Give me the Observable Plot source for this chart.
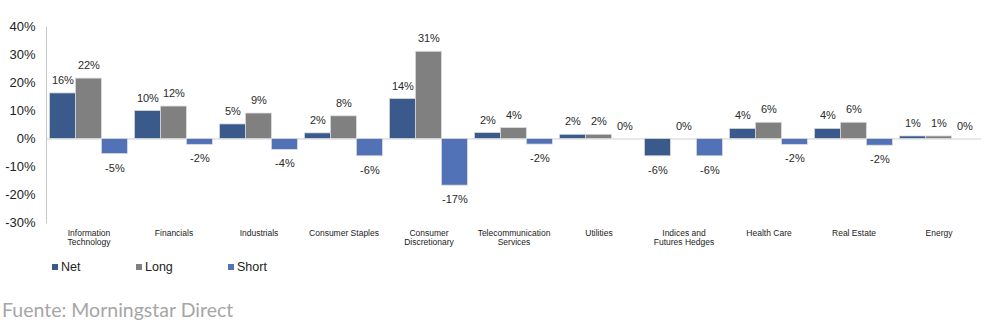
<!DOCTYPE html>
<html>
<head>
<meta charset="utf-8">
<script src="https://cdn.jsdelivr.net/npm/d3@7"></script>
<script src="https://cdn.jsdelivr.net/npm/@observablehq/plot@0.6"></script>
<style>
  html, body { margin: 0; padding: 0; background: #fff; }
  #wrap { position: relative; width: 984px; height: 332px; overflow: hidden; font-family: "Liberation Sans", Arial, sans-serif; }
  #chart svg { display: block; }
  #legend { position: absolute; left: 52px; top: 259px; height: 16px; font-size: 12.5px; color: #222; font-family: "Liberation Sans", Arial, sans-serif; }
  #legend span.item { position: absolute; top: 0; white-space: nowrap; line-height: 16px; }
  #legend span.sw { display: inline-block; width: 6px; height: 6px; margin-right: 3px; vertical-align: 1px; }
  #caption { position: absolute; left: 2px; top: 298px; font-family: Lato, "Open Sans", sans-serif; font-size: 19.5px; color: #a6a6a6; white-space: nowrap; }
</style>
</head>
<body>
<div id="wrap">
  <div id="chart"></div>
  <div id="legend"></div>
  <div id="caption">Fuente: Morningstar Direct</div>
</div>
<script>
const categories = [
  "Information\nTechnology",
  "Financials",
  "Industrials",
  "Consumer Staples",
  "Consumer\nDiscretionary",
  "Telecommunication\nServices",
  "Utilities",
  "Indices and\nFutures Hedges",
  "Health Care",
  "Real Estate",
  "Energy"
];
const seriesNames = ["Net", "Long", "Short"];
const seriesColors = ["#3a5a8c", "#808080", "#5272b8"];
const netValues   = [16.3, 10.0, 5.2, 2.0, 14.3, 2.1, 1.5, -6.2, 3.6, 3.6, 0.9];
const longValues  = [21.6, 11.6, 9.1, 8.1, 31.2, 3.9, 1.5, 0.0, 5.8, 5.8, 0.9];
const shortValues = [-5.4, -2.1, -3.9, -6.2, -16.7, -2.0, 0.0, -6.2, -2.1, -2.4, 0.0];
const yTicks = [-30, -20, -10, 0, 10, 20, 30, 40];

const seriesValues = [netValues, longValues, shortValues];
const rows = [];
categories.forEach((c, i) => {
  seriesNames.forEach((s, j) => {
    const v = seriesValues[j][i];
    rows.push({cat: c, series: s, value: v, label: Math.round(v) + "%"});
  });
});

const chart = Plot.plot({
  width: 984,
  height: 252,
  marginLeft: 44.6,
  marginRight: 2,
  marginTop: 26.7,
  marginBottom: 29.7,
  style: {fontFamily: "'Liberation Sans', Arial, sans-serif", background: "#fff"},
  fx: {domain: categories, padding: 0},
  x: {domain: seriesNames, paddingInner: 0, paddingOuter: 0.08, axis: null},
  y: {domain: [-30, 40]},
  color: {domain: seriesNames, range: seriesColors},
  marks: [
    Plot.axisY({ticks: yTicks, tickSize: 0, tickPadding: 11, tickFormat: d => d + "%", fontSize: 13, color: "#222", label: null}),
    Plot.axisFx({anchor: "bottom", tickSize: 0, tickPadding: 6.5, fontSize: 8.5, lineHeight: 1.1, color: "#222", label: null}),
    Plot.frame({anchor: "left", facetAnchor: "left", stroke: "#c8c8c8"}),
    Plot.ruleY([0], {stroke: "#d0d0d0", strokeWidth: 1}),
    Plot.barY(rows, {fx: "cat", x: "series", y: "value", fill: "series", stroke: "#dcdcdc", strokeWidth: 0.75}),
    Plot.text(rows.filter(d => d.value >= 0), {fx: "cat", x: "series", y: "value", text: "label", dy: -13, fontSize: 11, fill: "#2a2a2a"}),
    Plot.text(rows.filter(d => d.value < 0), {fx: "cat", x: "series", y: "value", text: "label", dy: 14, fontSize: 11, fill: "#2a2a2a"})
  ]
});
document.getElementById("chart").appendChild(chart);

const legend = document.getElementById("legend");
const legendOffsets = [0, 84, 176];
seriesNames.forEach((s, i) => {
  const item = document.createElement("span");
  item.className = "item";
  item.style.left = legendOffsets[i] + "px";
  item.innerHTML = `<span class="sw" style="background:${seriesColors[i]}"></span>${s}`;
  legend.appendChild(item);
});
</script>
</body>
</html>
